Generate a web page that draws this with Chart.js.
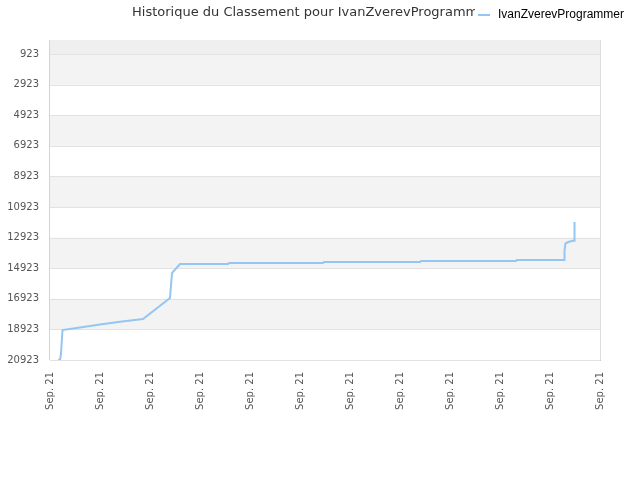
<!DOCTYPE html>
<html>
<head>
<meta charset="utf-8">
<script src="https://cdn.jsdelivr.net/npm/chart.js@4/dist/chart.umd.min.js"></script>
<style>
  html, body { margin: 0; padding: 0; background: #fff; }
  #wrap { width: 640px; height: 480px; }
</style>
</head>
<body>
<div id="wrap"><canvas id="rankChart" width="640" height="480"></canvas></div>
<script>
const titleText = "Historique du Classement pour IvanZverevProgrammer";
const seriesName = "IvanZverevProgrammer";
const xLabels = ["Sep. 21", "Sep. 21", "Sep. 21", "Sep. 21", "Sep. 21", "Sep. 21",
                 "Sep. 21", "Sep. 21", "Sep. 21", "Sep. 21", "Sep. 21", "Sep. 21"];
const yTicks = [923, 2923, 4923, 6923, 8923, 10923, 12923, 14923, 16923, 18923, 20923];

// position along the time axis (0 = first label) and rank
const timePos = [0.16, 0.2, 0.22, 0.25, 0.6, 1.0, 1.4, 1.86, 2.4, 2.44, 2.6, 3.56, 3.58,
                 5.46, 5.48, 7.4, 7.42, 9.32, 9.34, 10.28, 10.29, 10.31, 10.38, 10.46, 10.49, 10.49];
const ranks   = [20923, 20923, 20500, 18963, 18800, 18600, 18420, 18243, 16871, 15237, 14649, 14649, 14583,
                 14583, 14518, 14518, 14453, 14453, 14388, 14388, 13780, 13296, 13191, 13126, 13126, 11904];

const points = timePos.map((x, i) => ({ x: x, y: ranks[i] }));

const frame = {
  id: "frame",
  beforeDatasetsDraw(chart) {
    const { ctx, chartArea: a, scales: { y } } = chart;
    ctx.save();
    // alternating bands
    const edges = [0].concat(yTicks);
    for (let i = 0; i < edges.length - 1; i++) {
      const y1 = y.getPixelForValue(edges[i]);
      const y2 = y.getPixelForValue(edges[i + 1]);
      let col = null;
      if (i === 0) col = "#efefef";
      else if (i % 2 === 1) col = "#f3f3f3";
      if (col) {
        ctx.fillStyle = col;
        ctx.fillRect(a.left, y1, a.right - a.left, y2 - y1);
      }
    }
    // grid lines
    ctx.strokeStyle = "#e2e2e2";
    ctx.lineWidth = 1;
    yTicks.forEach(v => {
      const py = Math.round(y.getPixelForValue(v)) + 0.5;
      ctx.beginPath();
      ctx.moveTo(a.left, py);
      ctx.lineTo(a.right, py);
      ctx.stroke();
    });
    // left and right borders
    ctx.strokeStyle = "#d4d4d4";
    ctx.beginPath();
    ctx.moveTo(Math.round(a.left) - 0.5, a.top);
    ctx.lineTo(Math.round(a.left) - 0.5, a.bottom);
    ctx.stroke();
    ctx.strokeStyle = "#dddddd";
    ctx.beginPath();
    ctx.moveTo(a.right + 0.5, a.top);
    ctx.lineTo(a.right + 0.5, a.bottom);
    ctx.stroke();
    ctx.restore();
  },
  afterDraw(chart) {
    const { ctx } = chart;
    ctx.save();
    // title, cut by the legend
    ctx.beginPath();
    ctx.rect(0, 0, 475, 30);
    ctx.clip();
    ctx.fillStyle = "#333333";
    ctx.font = "13px 'DejaVu Sans'";
    ctx.textBaseline = "middle";
    ctx.textAlign = "left";
    ctx.fillText(titleText, 132, 13);
    ctx.restore();
    // legend
    ctx.save();
    ctx.strokeStyle = "#95c5f2";
    ctx.lineWidth = 2;
    ctx.beginPath();
    ctx.moveTo(478, 15);
    ctx.lineTo(490, 15);
    ctx.stroke();
    ctx.fillStyle = "#000000";
    ctx.font = "12px 'Liberation Sans'";
    ctx.textBaseline = "middle";
    ctx.fillText(seriesName, 498, 15);
    ctx.restore();
  }
};

new Chart(document.getElementById("rankChart"), {
  type: "line",
  data: {
    datasets: [{
      label: seriesName,
      data: points,
      borderColor: "#95c5f2",
      borderWidth: 2,
      pointRadius: 0,
      tension: 0,
      fill: false
    }]
  },
  options: {
    responsive: false,
    animation: false,
    layout: { padding: { top: 40, right: 40, left: 0, bottom: 0 } },
    plugins: { legend: { display: false }, title: { display: false }, tooltip: { enabled: false } },
    scales: {
      x: {
        type: "linear",
        min: 0,
        max: xLabels.length - 1,
        afterBuildTicks: axis => { axis.ticks = xLabels.map((_, i) => ({ value: i })); },
        afterFit: axis => { axis.height = 120; },
        grid: { display: false },
        border: { display: true, color: "#cccccc" },
        ticks: {
          autoSkip: false,
          minRotation: 90,
          maxRotation: 90,
          padding: 4,
          color: "#555555",
          font: { family: "DejaVu Sans", size: 10 },
          callback: v => xLabels[v]
        }
      },
      y: {
        reverse: true,
        min: 0,
        max: 20923,
        afterBuildTicks: axis => { axis.ticks = yTicks.map(v => ({ value: v })); },
        afterFit: axis => { axis.width = 50; },
        grid: { display: false },
        border: { display: false },
        ticks: {
          autoSkip: false,
          padding: 3,
          color: "#555555",
          font: { family: "DejaVu Sans", size: 10 },
          callback: v => String(v)
        }
      }
    }
  },
  plugins: [frame]
});
</script>
</body>
</html>
